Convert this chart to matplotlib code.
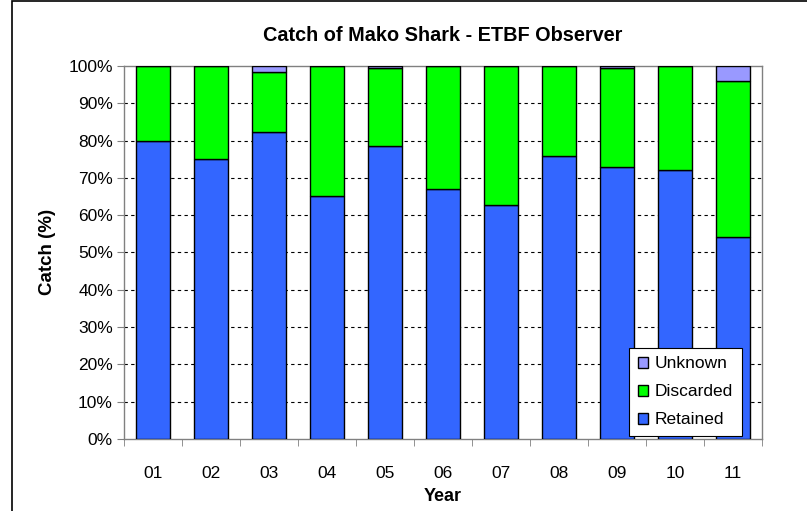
import matplotlib
matplotlib.use("Agg")
import matplotlib.pyplot as plt
from matplotlib.patches import Rectangle
import numpy as np

plt.rcParams['font.family'] = ['Liberation Sans', 'DejaVu Sans']

years = ["01", "02", "03", "04", "05", "06", "07", "08", "09", "10", "11"]
retained = [80.0, 75.0, 82.2, 65.0, 78.5, 67.0, 62.8, 75.9, 73.0, 72.1, 54.2]
discarded = [20.0, 25.0, 16.1, 35.0, 21.0, 33.0, 37.2, 24.1, 26.4, 27.9, 41.8]
unknown = [0.0, 0.0, 1.7, 0.0, 0.5, 0.0, 0.0, 0.0, 0.6, 0.0, 4.0]

c_ret = "#3366FF"
c_dis = "#00FF00"
c_unk = "#9999FF"

fig = plt.figure(figsize=(8.07, 5.11), dpi=100)
ax = fig.add_axes([0.1537, 0.141, 0.7903, 0.730])

x = np.arange(len(years))
w = 0.59
ret = np.array(retained)
dis = np.array(discarded)
unk = np.array(unknown)
kw = dict(width=w, edgecolor="black", linewidth=1.0, zorder=3)
ax.bar(x, ret, color=c_ret, label="Retained", **kw)
ax.bar(x, dis, bottom=ret, color=c_dis, label="Discarded", **kw)
ax.bar(x, unk, bottom=ret + dis, color=c_unk, label="Unknown", **kw)

ax.set_xlim(-0.5, len(years) - 0.5)
ax.set_ylim(0, 100)
ax.set_yticks(np.arange(0, 101, 10))
ax.set_yticklabels([f"{v}%" for v in range(0, 101, 10)], fontsize=12.5)
ax.set_xticks(x)
ax.set_xticklabels(years, fontsize=12.5)
ax.set_xticks(np.arange(-0.5, len(years), 1), minor=True)
ax.tick_params(axis="x", which="major", length=0, pad=19.5)
ax.tick_params(axis="x", which="minor", length=5, color="#808080", direction="out")
ax.tick_params(axis="y", length=5, color="#808080", direction="out", pad=3)

for v in range(10, 100, 10):
    ax.axhline(v, color="black", linestyle=(0, (3, 3)), linewidth=0.8, zorder=1)

for s in ax.spines.values():
    s.set_color("#808080")
    s.set_linewidth(1.0)

ax.set_title("Catch of Mako Shark - ETBF Observer", fontsize=14.3,
             fontweight="bold", pad=18)
ax.set_ylabel("Catch (%)", fontsize=13.5, fontweight="bold", labelpad=9)
ax.set_xlabel("Year", fontsize=13, fontweight="bold", labelpad=5)

handles, labels = ax.get_legend_handles_labels()
leg = ax.legend(handles[::-1], labels[::-1], loc="lower right",
                bbox_to_anchor=(0.9687, 0.008), fontsize=12.5, frameon=True,
                fancybox=False, edgecolor="black", framealpha=1,
                handlelength=0.6, handleheight=0.6, handletextpad=0.4,
                labelspacing=0.75, borderpad=0.5, borderaxespad=0.0)
leg.get_frame().set_linewidth(0.8)
leg.set_zorder(5)

fig.patches.append(Rectangle((12 / 807, -0.1), 1.2, 1.1 - 1.5 / 511,
                             transform=fig.transFigure, fill=False,
                             edgecolor="black", linewidth=1.2))

fig.savefig("out.png", dpi=100)
